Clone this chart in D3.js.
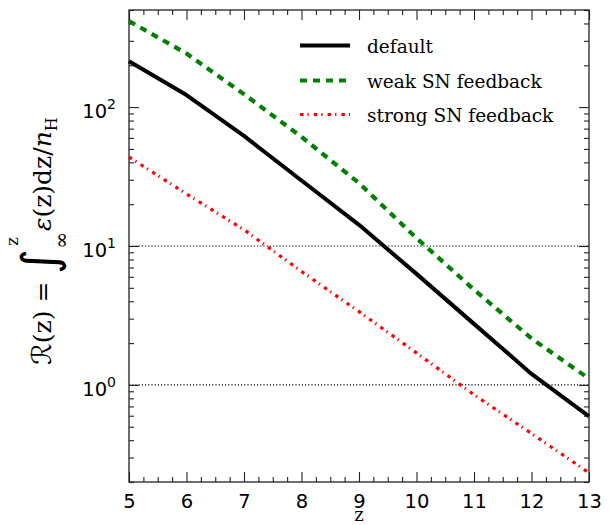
<!DOCTYPE html>
<html>
<head>
<meta charset="utf-8">
<script src="https://cdn.jsdelivr.net/npm/d3@7"></script>
<style>
  body { margin: 0; background: #fff; }
  svg { display: block; }
</style>
</head>
<body>
<svg id="chart" width="609" height="525"></svg>
<script>
// values, one per integer redshift
var zValues = [5, 6, 7, 8, 9, 10, 11, 12, 13];
var defaultR = [214, 122, 62, 29.6, 14.2, 6.3, 2.75, 1.2, 0.594];
var weakR = [416, 243, 124, 61, 28.4, 11.4, 4.85, 2.16, 1.11];
var strongR = [43.7, 23.7, 13.1, 6.56, 3.37, 1.70, 0.85, 0.447, 0.233];

var xTicks = [5, 6, 7, 8, 9, 10, 11, 12, 13];
var yTicks = [1, 10, 100];
var yTickExp = ['0', '1', '2'];
var guideLevels = [1, 10];
var legendLabels = ['default', 'weak SN feedback', 'strong SN feedback'];

(function () {
    var PLOT = {left: 129, right: 589, top: 10, bottom: 482};
    var TICK_FONT = '"DejaVu Sans", sans-serif';
    var SERIF = '"DejaVu Serif", serif';

    var svg = d3.select('#chart');

    var x = d3.scaleLinear().domain([5, 13]).range([PLOT.left, PLOT.right]);
    var y = d3.scaleLog().domain([0.2, 500]).range([PLOT.bottom, PLOT.top]);

    // minor tick positions
    var xMinor = [];
    for (var v = 5; v <= 13.001; v += 0.25) {
        if (Math.abs(v - Math.round(v)) > 0.01) xMinor.push(v);
    }
    var yMinor = [];
    [0.1, 1, 10, 100].forEach(function (dec) {
        for (var m = 2; m <= 9; m++) {
            var t = m * dec;
            if (t >= 0.2 && t <= 500) yMinor.push(t);
        }
    });

    // dotted guide lines
    svg.selectAll('line.guide').data(guideLevels).enter().append('line')
        .attr('class', 'guide')
        .attr('x1', PLOT.left).attr('x2', PLOT.right)
        .attr('y1', function (d) { return y(d); }).attr('y2', function (d) { return y(d); })
        .style('stroke', '#000').style('stroke-width', 1.1)
        .style('stroke-dasharray', '1.2,2');

    function addAxis(axis, tx, ty) {
        var g = svg.append('g').attr('transform', 'translate(' + tx + ',' + ty + ')').call(axis);
        g.select('.domain').remove();
        g.selectAll('.tick line').style('stroke', '#222').style('stroke-width', 1.1);
        return g;
    }

    // major + minor ticks on all four sides, pointing inwards
    var xb = addAxis(d3.axisBottom(x).tickValues(xTicks).tickSize(-10).tickPadding(12)
        .tickFormat(d3.format('d')), 0, PLOT.bottom);
    xb.selectAll('text').style('font-family', TICK_FONT).style('font-size', '19.5px').style('fill', '#000');
    addAxis(d3.axisBottom(x).tickValues(xMinor).tickSize(-5).tickFormat(''), 0, PLOT.bottom);
    addAxis(d3.axisTop(x).tickValues(xTicks).tickSize(-10).tickFormat(''), 0, PLOT.top);
    addAxis(d3.axisTop(x).tickValues(xMinor).tickSize(-5).tickFormat(''), 0, PLOT.top);

    addAxis(d3.axisLeft(y).tickValues(yTicks).tickSize(-10).tickFormat(''), PLOT.left, 0);
    addAxis(d3.axisLeft(y).tickValues(yMinor).tickSize(-5).tickFormat(''), PLOT.left, 0);
    addAxis(d3.axisRight(y).tickValues(yTicks).tickSize(-10).tickFormat(''), PLOT.right, 0);
    addAxis(d3.axisRight(y).tickValues(yMinor).tickSize(-5).tickFormat(''), PLOT.right, 0);

    // y tick labels as 10^n
    yTicks.forEach(function (t, i) {
        var lab = svg.append('text')
            .attr('x', PLOT.left - 13).attr('y', y(t) + 11)
            .attr('text-anchor', 'end')
            .style('font-family', TICK_FONT).style('font-size', '19.5px');
        lab.append('tspan').text('10');
        lab.append('tspan').attr('dy', -9).style('font-size', '14px').text(yTickExp[i]);
    });

    // frame
    svg.append('rect')
        .attr('x', PLOT.left).attr('y', PLOT.top)
        .attr('width', PLOT.right - PLOT.left).attr('height', PLOT.bottom - PLOT.top)
        .style('fill', 'none').style('stroke', '#222').style('stroke-width', 1.3);

    var series = [
        {label: legendLabels[0], values: defaultR, color: '#000', width: 4, dash: null},
        {label: legendLabels[1], values: weakR, color: 'green', width: 4.2, dash: '7,6'},
        {label: legendLabels[2], values: strongR, color: 'red', width: 3.2, dash: '3.5,4,1.3,5'}
    ];

    var line = d3.line()
        .x(function (d) { return x(d[0]); })
        .y(function (d) { return y(d[1]); });

    series.forEach(function (s) {
        var pts = zValues.map(function (z, i) { return [z, s.values[i]]; });
        svg.append('path').datum(pts).attr('d', line)
            .style('fill', 'none').style('stroke', s.color)
            .style('stroke-width', s.width)
            .style('stroke-linejoin', 'round')
            .style('stroke-dasharray', s.dash);
    });

    // legend
    var legendRows = [45.5, 80.5, 114.5];
    series.forEach(function (s, i) {
        svg.append('line')
            .attr('x1', 300).attr('x2', 350)
            .attr('y1', legendRows[i]).attr('y2', legendRows[i])
            .style('stroke', s.color).style('stroke-width', s.width)
            .style('stroke-dasharray', s.dash);
        svg.append('text')
            .attr('x', 367).attr('y', legendRows[i] + 7)
            .style('font-family', SERIF).style('font-size', '18.5px')
            .text(s.label);
    });

    // x label
    svg.append('text')
        .attr('x', x(9)).attr('y', 521)
        .attr('text-anchor', 'middle')
        .style('font-family', SERIF).style('font-size', '18px')
        .text('z');

    // y label: R(z) = int_inf^z eps(z)dz/n_H
    var yl = svg.append('text')
        .attr('transform', 'translate(51,241) rotate(-90)')
        .attr('text-anchor', 'middle')
        .style('font-family', SERIF).style('font-size', '25px');
    yl.append('tspan').style('font-family', '"DejaVu Sans", sans-serif').style('font-size', '27px').text('\u211B');
    yl.append('tspan').text('(z) = ');
    yl.append('tspan').attr('dy', 5).style('font-size', '48px').style('font-family', '"DejaVu Sans", sans-serif').text('\u222B');
    yl.append('tspan').attr('dy', 12).style('font-size', '20px').text('\u221E');
    yl.append('tspan').attr('dx', -14).attr('dy', -50).style('font-size', '17px').text('z');
    yl.append('tspan').attr('dx', 6).attr('dy', 33).style('font-style', 'italic').text('\u03B5');
    yl.append('tspan').text('(z)dz/');
    yl.append('tspan').style('font-style', 'italic').text('n');
    yl.append('tspan').attr('dy', 6).style('font-size', '16px').text('H');
}());
</script>
</body>
</html>
